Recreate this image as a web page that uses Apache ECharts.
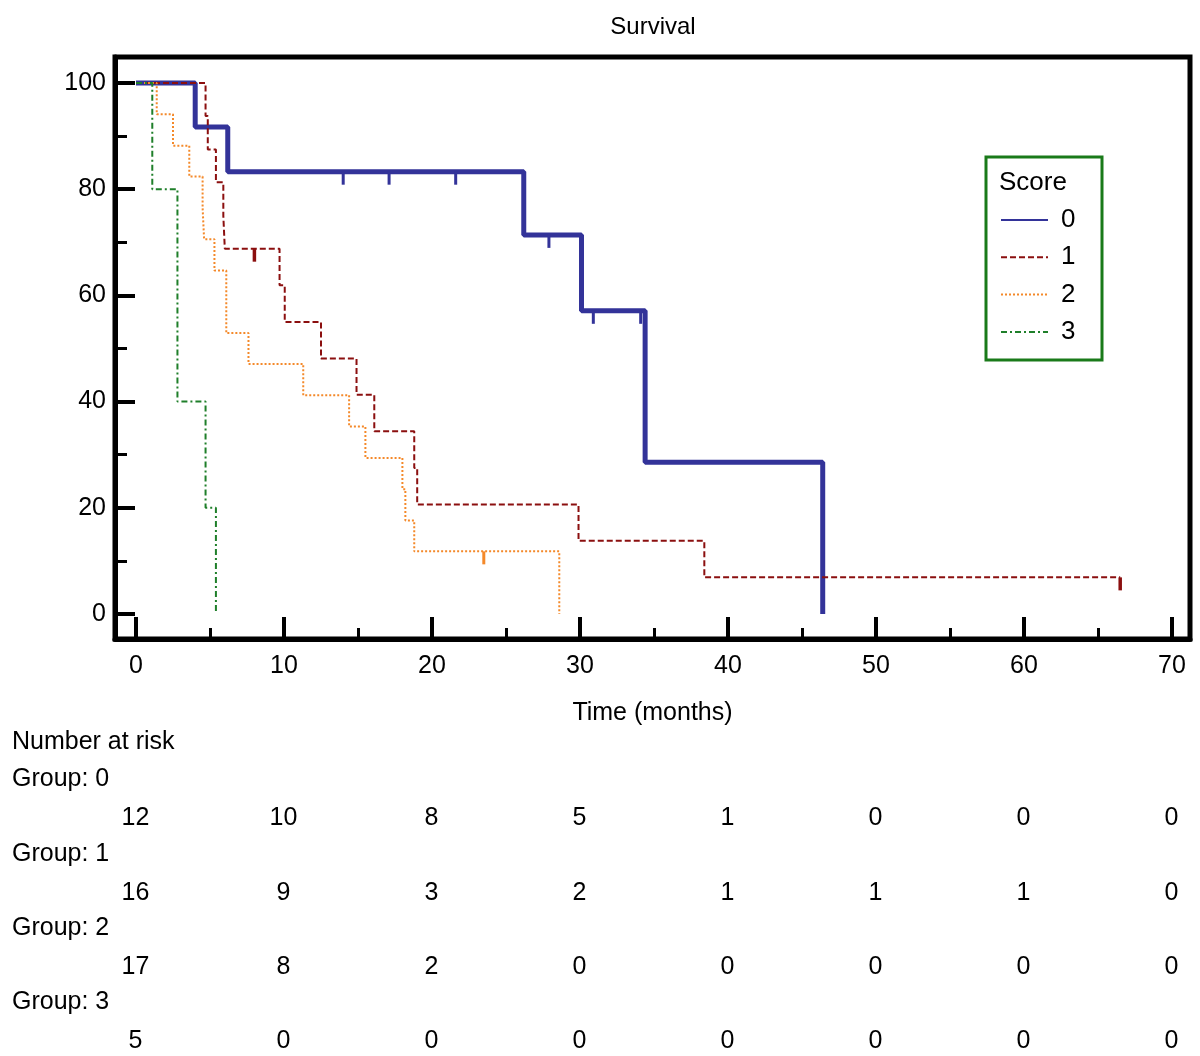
<!DOCTYPE html>
<html>
<head>
<meta charset="utf-8">
<script src="https://cdn.jsdelivr.net/npm/echarts@6/dist/echarts.min.js"></script>
<style>
html,body{margin:0;padding:0;background:#fff;}
#chart{width:1200px;height:1056px;}
</style>
</head>
<body>
<div id="chart"></div>
<script>
// ---------- data ----------
const xMajor = [0, 10, 20, 30, 40, 50, 60, 70];
const xMinor = [5, 15, 25, 35, 45, 55, 65];
const yMajor = [0, 20, 40, 60, 80, 100];
const yMinor = [10, 30, 50, 70, 90];

const groupNames = ['0', '1', '2', '3'];

const g0Time = [0, 4.0, 6.2, 26.2, 30.1, 34.4, 46.4];
const g0Surv = [100, 91.7, 83.3, 71.4, 57.1, 28.6, 0];
const g0CensorTime = [14.0, 17.1, 21.6, 27.9, 30.9, 34.1];
const g0CensorSurv = [83.3, 83.3, 83.3, 71.4, 57.1, 57.1];

const g1Time = [0, 4.7, 4.85, 5.4, 5.9, 6.0, 9.7, 10.05, 12.5, 14.9, 16.1, 18.8, 19.0, 29.9, 38.4, 66.5];
const g1Surv = [100, 93.8, 87.5, 81.3, 75.0, 68.8, 61.9, 55.0, 48.1, 41.3, 34.4, 27.5, 20.6, 13.8, 6.9, 6.9];
const g1CensorTime = [8.0, 66.5];
const g1CensorSurv = [68.8, 6.9];

const g2Time = [0, 1.4, 2.5, 3.6, 4.5, 4.6, 5.3, 6.1, 7.6, 11.3, 14.4, 15.5, 18.0, 18.2, 18.8, 28.6];
const g2Surv = [100, 94.1, 88.2, 82.4, 76.5, 70.6, 64.7, 52.9, 47.1, 41.2, 35.3, 29.4, 23.5, 17.6, 11.8, 0];
const g2CensorTime = [23.5];
const g2CensorSurv = [11.8];

const g3Time = [0, 1.1, 2.8, 4.7, 5.4];
const g3Surv = [100, 80, 40, 20, 0];

const riskTimes = [0, 10, 20, 30, 40, 50, 60, 70];
const risk0 = [12, 10, 8, 5, 1, 0, 0, 0];
const risk1 = [16, 9, 3, 2, 1, 1, 1, 0];
const risk2 = [17, 8, 2, 0, 0, 0, 0, 0];
const risk3 = [5, 0, 0, 0, 0, 0, 0, 0];

// ---------- styling ----------
const FONT = '"Liberation Sans", Arial, sans-serif';
const FS = 25;
const XMIN = -1.419, XMAX = 71.216;
const YMIN = -4.708, YMAX = 104.9;
const colors = ['#333399', '#8b0f0f', '#f4892a', '#1f7f2a'];

function zip(a, b) { return a.map((v, i) => [v, b[i]]); }

const lineStyles = [
  { color: colors[0], width: 5, type: 'solid' },
  { color: colors[1], width: 2, type: [6, 3] },
  { color: colors[2], width: 2, type: [2, 2] },
  { color: colors[3], width: 2, type: [6, 3, 2, 3] }
];
const curveTimes = [g0Time, g1Time, g2Time, g3Time];
const curveSurv = [g0Surv, g1Surv, g2Surv, g3Surv];
const censorSets = [
  [g0CensorTime, g0CensorSurv, 3],
  [g1CensorTime, g1CensorSurv, 3.5],
  [g2CensorTime, g2CensorSurv, 3]
];
const riskRows = [risk0, risk1, risk2, risk3];

const series = [];
for (let g = 0; g < 4; g++) {
  series.push({
    name: groupNames[g],
    type: 'line',
    step: 'end',
    xAxisIndex: 0, yAxisIndex: 0,
    symbol: 'none',
    data: zip(curveTimes[g], curveSurv[g]),
    lineStyle: lineStyles[g],
    itemStyle: { color: colors[g] },
    animation: false,
    z: 3 + g
  });
}
censorSets.forEach((c, g) => {
  series.push({
    name: 'censor' + g,
    type: 'scatter',
    xAxisIndex: 0, yAxisIndex: 0,
    symbol: 'rect',
    symbolSize: [c[2], 13],
    symbolOffset: [0, 6.5],
    data: zip(c[0], c[1]),
    itemStyle: { color: colors[g], opacity: 1 },
    animation: false,
    z: 8
  });
});
// number at risk table (row = group index on a hidden value axis)
const riskData = [];
riskRows.forEach((row, g) => row.forEach((n, i) => riskData.push([riskTimes[i], g, n])));
series.push({
  name: 'risk',
  type: 'scatter',
  xAxisIndex: 2, yAxisIndex: 2,
  symbolSize: 1,
  itemStyle: { color: 'rgba(0,0,0,0)' },
  data: riskData,
  label: {
    show: true, position: [0, 0], align: 'center', verticalAlign: 'middle',
    formatter: p => String(p.value[2]),
    fontFamily: FONT, fontSize: FS, color: '#000', opacity: 1
  },
  animation: false
});

const chart = echarts.init(document.getElementById('chart'), null, { renderer: 'canvas' });
const option = {
  backgroundColor: '#fff',
  textStyle: { fontFamily: FONT },
  grid: [
    { left: 115, right: 10, top: 57, bottom: 417, show: true, borderColor: '#000', borderWidth: 5, containLabel: false },
    { left: 115, right: 10, top: 781.8, bottom: 0, containLabel: false }
  ],
  xAxis: [
    {
      type: 'value', gridIndex: 0, min: XMIN, max: XMAX, position: 'bottom',
      axisLine: { show: true, onZero: false, lineStyle: { color: '#000', width: 5 } },
      axisTick: { show: true, inside: true, length: 22, customValues: xMajor, lineStyle: { color: '#000', width: 4 } },
      axisLabel: { show: true, customValues: xMajor, margin: 15, fontSize: FS, color: '#000', fontFamily: FONT },
      splitLine: { show: false },
      name: 'Time (months)', nameLocation: 'middle', nameGap: 62,
      nameTextStyle: { fontSize: FS, color: '#000', fontFamily: FONT }
    },
    {
      type: 'value', gridIndex: 0, min: XMIN, max: XMAX, position: 'bottom', offset: 0,
      axisLine: { show: false, onZero: false },
      axisTick: { show: true, inside: true, length: 11, customValues: xMinor, lineStyle: { color: '#000', width: 3 } },
      axisLabel: { show: false },
      splitLine: { show: false }
    },
    {
      type: 'value', gridIndex: 1, min: XMIN, max: XMAX, show: false,
      splitLine: { show: false }
    }
  ],
  yAxis: [
    {
      type: 'value', gridIndex: 0, min: YMIN, max: YMAX, position: 'left',
      axisLine: { show: true, onZero: false, lineStyle: { color: '#000', width: 5 } },
      axisTick: { show: true, inside: true, length: 20, customValues: yMajor, lineStyle: { color: '#000', width: 4 } },
      axisLabel: { show: true, customValues: yMajor, margin: 9, fontSize: FS, color: '#000', fontFamily: FONT },
      splitLine: { show: false }
    },
    {
      type: 'value', gridIndex: 0, min: YMIN, max: YMAX, position: 'left', offset: 0,
      axisLine: { show: false, onZero: false },
      axisTick: { show: true, inside: true, length: 12, customValues: yMinor, lineStyle: { color: '#000', width: 3 } },
      axisLabel: { show: false },
      splitLine: { show: false }
    },
    {
      type: 'value', gridIndex: 1, min: -0.5, max: 3.19, inverse: true, show: false,
      splitLine: { show: false }
    }
  ],
  legend: {
    data: groupNames,
    orient: 'vertical',
    left: 1000, top: 206,
    itemWidth: 47, itemHeight: 14, itemGap: 9.3,
    padding: 0,
    itemStyle: { opacity: 0 },
    textStyle: { fontSize: 26, color: '#000', fontFamily: FONT, lineHeight: 28, padding: [0, 0, 0, 8] },
    selectedMode: false
  },
  graphic: [
    { type: 'text', x: 653, y: 27, style: { text: 'Survival', font: '24px ' + FONT, fill: '#000', align: 'center', verticalAlign: 'middle' }, z: 10 },
    { type: 'rect', shape: { x: 986, y: 157, width: 116, height: 203 }, style: { fill: 'none', stroke: '#1a7a1a', lineWidth: 3 }, z: 10 },
    { type: 'text', x: 999, y: 183, style: { text: 'Score', font: '26px ' + FONT, fill: '#000', verticalAlign: 'middle' }, z: 10 },
    { type: 'text', x: 12, y: 742, style: { text: 'Number at risk', font: FS + 'px ' + FONT, fill: '#000', verticalAlign: 'middle' } },
    { type: 'text', x: 12, y: 779, style: { text: 'Group: 0', font: FS + 'px ' + FONT, fill: '#000', verticalAlign: 'middle' } },
    { type: 'text', x: 12, y: 854, style: { text: 'Group: 1', font: FS + 'px ' + FONT, fill: '#000', verticalAlign: 'middle' } },
    { type: 'text', x: 12, y: 928, style: { text: 'Group: 2', font: FS + 'px ' + FONT, fill: '#000', verticalAlign: 'middle' } },
    { type: 'text', x: 12, y: 1002, style: { text: 'Group: 3', font: FS + 'px ' + FONT, fill: '#000', verticalAlign: 'middle' } }
  ],
  series: series
};
chart.setOption(option);
</script>
</body>
</html>
